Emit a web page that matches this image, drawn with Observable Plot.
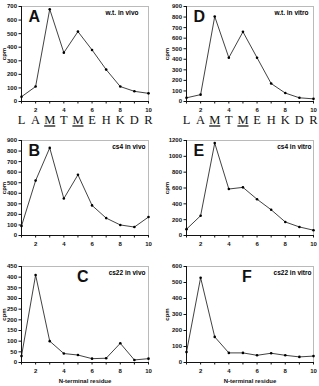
<!DOCTYPE html>
<html><head><meta charset="utf-8">
<script src="https://cdn.jsdelivr.net/npm/d3@7"></script>
<script src="https://cdn.jsdelivr.net/npm/@observablehq/plot@0.6"></script>
<style>
body{margin:0;background:#fff;}
#wrap{position:relative;width:319px;height:386px;overflow:hidden;background:#fff;}
#wrap svg{position:absolute;}
</style></head>
<body><div id="wrap"></div>
<script>
const positions = [1,2,3,4,5,6,7,8,9,10];
const residues = ["L","A","M","T","M","E","H","K","D","R"];
const underlined = [false,false,true,false,true,false,false,false,false,false];
const wtVivo   = [35,110,680,360,515,380,235,110,75,60];
const wtVitro  = [35,65,805,415,660,415,170,80,35,25];
const cs4Vivo  = [90,520,830,350,575,285,165,100,80,175];
const cs4Vitro = [80,250,1167,587,608,458,325,171,108,67];
const cs22Vivo = [30,410,100,42,35,18,20,90,12,18];
const cs22Vitro= [65,530,160,60,60,45,58,45,35,40];

const panels = [
  {letter:"A", note:"w.t. in vivo",  values:wtVivo,   ymax:700,  step:100, col:0, row:0, ndx:-10},
  {letter:"D", note:"w.t. in vitro", values:wtVitro,  ymax:900,  step:100, col:1, row:0, ndx:-5},
  {letter:"B", note:"cs4 in vivo",   values:cs4Vivo,  ymax:900,  step:100, col:0, row:1, ndx:-3},
  {letter:"E", note:"cs4 in vitro",  values:cs4Vitro, ymax:1200, step:200, col:1, row:1, ndx:-2},
  {letter:"C", note:"cs22 in vivo",  values:cs22Vivo, ymax:450,  step:50,  col:0, row:2, ndx:-3, center:true},
  {letter:"F", note:"cs22 in vitro", values:cs22Vitro,ymax:600,  step:100, col:1, row:2, ndx:-2, center:true}
];

const cols = [
  {left:0,   width:160, ml:21, mr:12},
  {left:160, width:159, ml:26, mr:6}
];
const rows = [
  {top:0,   height:128, mt:6,  mb:27},
  {top:128, height:126, mt:12, mb:19},
  {top:254, height:132, mt:12, mb:24}
];
const sans = "'Liberation Sans', Arial, sans-serif";
const wrap = document.getElementById("wrap");

for (const p of panels) {
  const c = cols[p.col], r = rows[p.row];
  const data = positions.map((x,i)=>({x, y:p.values[i]}));
  const yt = d3.range(0, p.ymax + 1e-9, p.step);
  const marks = [
    Plot.frame({stroke:"#aaa", strokeWidth:0.8}),
    Plot.ruleX([1], {stroke:"#000", strokeWidth:0.9}),
    Plot.ruleY([0], {stroke:"#000", strokeWidth:0.9}),
    Plot.axisY({ticks: yt, tickSize:2.5, tickPadding:2, fontSize:6, fontWeight:"bold", tickFormat: d3.format("d"),
                label:"cpm", labelAnchor:"center", labelOffset: p.col===0 ? 20 : 22, labelArrow:"none"}),
    Plot.axisX({ticks: positions, tickSize:2.5, tickPadding:3.5, fontSize:6, fontWeight:"bold",
                tickFormat: d => d % 2 === 0 ? String(d) : "",
                label: p.row===2 ? "N-terminal residue" : null, labelAnchor:"center", labelOffset:20, labelArrow:"none"}),
    Plot.line(data, {x:"x", y:"y", stroke:"#111", strokeWidth:0.8}),
    Plot.dot(data, {x:"x", y:"y", r:1.3, fill:"#000", stroke:null}),
    Plot.text([p.letter], {text:d=>d, frameAnchor: p.center ? "top" : "top-left",
                dx: p.center ? -8 : 7, dy: 4, fontSize:16, fontWeight:"bold", fontFamily:sans, textAnchor:"start", lineAnchor:"top"}),
    Plot.text([p.note], {text:d=>d, frameAnchor:"top-right", dx:p.ndx, dy:4, fontSize:6.5, fontWeight:"bold", fontFamily:sans, fill:"#000", lineAnchor:"top"})
  ];
  if (p.row === 0) {
    marks.push(Plot.axisX({ticks: positions, tickSize:0, tickPadding:14, fontSize:12.5,
      tickFormat: d => residues[d-1], label:null, fontFamily:"'Liberation Serif', 'Times New Roman', serif", className:"res"}));
  }
  const svg = Plot.plot({
    width: c.width, height: r.height,
    marginLeft: c.ml, marginRight: c.mr, marginTop: r.mt, marginBottom: r.mb,
    style: {fontFamily: sans, color:"#111", background:"transparent", overflow:"visible"},
    x: {domain:[1,10]},
    y: {domain:[0,p.ymax]},
    marks
  });
  svg.style.left = c.left + "px";
  svg.style.top = r.top + "px";
  wrap.appendChild(svg);
  if (p.row === 0) {
    d3.select(svg).selectAll(".res text").each(function(d, i){
      if (underlined[i]) d3.select(this).attr("text-decoration","underline");
    });
  }
}
</script></body></html>
